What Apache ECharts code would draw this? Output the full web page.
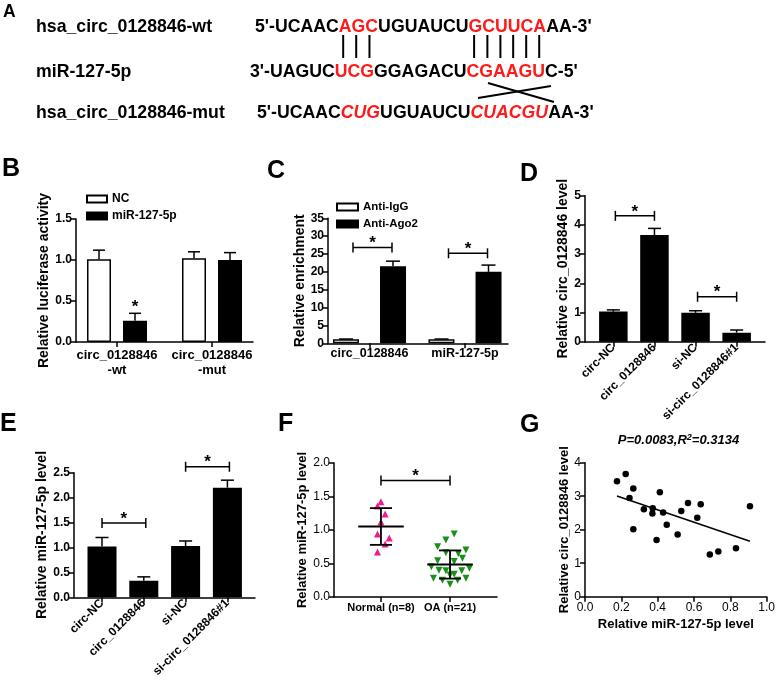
<!DOCTYPE html>
<html><head><meta charset="utf-8">
<script src="https://cdn.jsdelivr.net/npm/echarts@6/dist/echarts.min.js"></script>
<style>html,body{margin:0;padding:0;background:#fff}#c{width:778px;height:685px}</style>
</head><body><div id="c"></div>
<script>
const FF = "'Liberation Sans', Arial, Helvetica, sans-serif";

// ---------------- DATA ----------------
// Panel A: sequences (text, style key)
const seqNames = ['hsa_circ_0128846-wt', 'miR-127-5p', 'hsa_circ_0128846-mut'];
const seqWt  = [["5'-UCAAC",'n'],['AGC','r'],['UGUAUCU','n'],['GCUUCA','r'],["AA-3'",'n']];
const seqMir = [["3'-UAGUC",'n'],['UCG','r'],['GGAGACU','n'],['CGAAGU','r'],["C-5'",'n']];
const seqMut = [["5'-UCAAC",'n'],['CUG','ri'],['UGUAUCU','n'],['CUACGU','ri'],["AA-3'",'n']];

// Panel B
const bCats = ['circ_0128846\n-wt', 'circ_0128846\n-mut'];
const bNC = [1.01, 1.02], bNCsd = [0.11, 0.08];
const bMir = [0.26, 1.00], bMirSd = [0.09, 0.09];
const bStarIdx = [0];

// Panel C
const cCats = ['circ_0128846', 'miR-127-5p'];
const cIgG = [1.1, 1.1], cIgGsd = [0.1, 0.1];
const cAgo = [21.6, 20.0], cAgoSd = [1.4, 1.9];
const cSig = [[0, 0, 26.8], [1, 1, 25.2]];

// Panel D
const dCats = ['circ-NC', 'circ_0128846', 'si-NC', 'si-circ_0128846#1'];
const dVals = [1.03, 3.65, 0.99, 0.31], dSd = [0.06, 0.23, 0.07, 0.09];
const dSig = [[0, 1, 4.31], [2, 3, 1.54]];

// Panel E
const eCats = ['circ-NC', 'circ_0128846', 'si-NC', 'si-circ_0128846#1'];
const eVals = [1.02, 0.33, 1.03, 2.20], eSd = [0.18, 0.08, 0.10, 0.15];
const eSig = [[0, 1, 1.49], [2, 3, 2.62]];

// Panel F
const fCats = ['Normal (n=8)', 'OA (n=21)'];
const fNormal = [1.42, 1.36, 1.24, 1.12, 0.94, 0.88, 0.79, 0.67];
const fNormalJit = [0, -0.05, 0.06, 0, -0.05, 0.12, 0.06, -0.05];
const fOA = [0.94, 0.85, 0.75, 0.70, 0.66, 0.65, 0.58, 0.54, 0.53, 0.45, 0.43, 0.40, 0.39, 0.39, 0.33, 0.34, 0.28, 0.28, 0.25, 0.25, 0.19];
const fOAJit = [0.06, -0.06, -0.18, 0.23, -0.06, 0.12, 0.18, -0.18, 0.06, -0.27, 0.28, -0.16, -0.06, 0.17, 0, 0.06, -0.24, 0.23, -0.11, 0.11, 0];
const fSig = [[1, 2, 1.74]];

// Panel G
const gX = [0.176, 0.224, 0.266, 0.245, 0.266, 0.324, 0.373, 0.371, 0.412, 0.430, 0.394, 0.450, 0.530, 0.567, 0.510, 0.618, 0.637, 0.687, 0.734, 0.831, 0.908];
const gY = [3.45, 3.66, 3.23, 2.95, 2.01, 2.61, 2.64, 2.48, 3.12, 2.51, 1.69, 2.15, 2.56, 2.80, 1.86, 2.36, 2.76, 1.26, 1.35, 1.45, 2.70];
const gStat = ['P=0.0083,R', '2', '=0.3134'];

// ---------------- BUILD ----------------
const grids = [], xAxis = [], yAxis = [], series = [], graphics = [];
const AX = {color: '#000', width: 1.5};
const LS = {stroke: '#000', lineWidth: 1.5};

function barFrame(o) {
  const gi = grids.length;
  grids.push({left: o.fl, top: o.top, width: o.fr - o.fl, height: o.bottom - o.top});
  xAxis.push({gridIndex: gi, type: 'value', min: 0, max: 1, axisLine: {show: true, onZero: false, lineStyle: AX},
    axisTick: {show: false}, axisLabel: {show: false}, splitLine: {show: false}});
  yAxis.push({gridIndex: gi, type: 'value', min: o.min, max: o.max, interval: o.int,
    axisLine: {show: true, lineStyle: AX}, axisTick: {show: true, length: 5, lineStyle: AX},
    axisLabel: {color: '#000', fontFamily: FF, fontWeight: o.tickWeight || 'bold', fontSize: o.tickSize || 12, margin: 4,
      formatter: v => v.toFixed(o.dec)},
    splitLine: {show: false}, name: o.name, nameLocation: 'middle', nameGap: o.nameGap,
    nameTextStyle: {color: '#000', fontFamily: FF, fontWeight: 'bold', fontSize: o.nameSize || 14}});
  const pg = grids.length;
  grids.push({left: o.pl, top: o.top, width: o.pr - o.pl, height: o.bottom - o.top});
  const xi = xAxis.length;
  xAxis.push({gridIndex: pg, type: 'category', data: o.cats,
    axisLine: {show: true, lineStyle: {color: 'rgba(0,0,0,0)'}},
    axisTick: {show: true, alignWithLabel: true, length: 5, lineStyle: AX},
    axisLabel: {interval: 0, color: '#000', fontFamily: FF, fontWeight: 'bold', fontSize: o.catSize || 12,
      margin: o.catMargin || 5, rotate: o.rotate || 0, lineHeight: o.catLH || undefined},
    splitLine: {show: false}});
  const yi = yAxis.length;
  yAxis.push({gridIndex: pg, type: 'value', min: o.min, max: o.max, show: false});
  return {x: xi, y: yi};
}

function errSeries(ax, vals, sds, off, cap) {
  return {type: 'custom', xAxisIndex: ax.x, yAxisIndex: ax.y, z: 5, silent: true,
    data: vals.map((v, i) => [i, v, v + sds[i]]),
    renderItem: (p, api) => {
      const a = api.coord([api.value(0), api.value(1)]);
      const b = api.coord([api.value(0), api.value(2)]);
      const x = a[0] + off;
      return {type: 'group', children: [
        {type: 'line', shape: {x1: x, y1: a[1], x2: x, y2: b[1]}, style: LS},
        {type: 'line', shape: {x1: x - cap, y1: b[1], x2: x + cap, y2: b[1]}, style: LS}
      ]};
    }};
}

function starText(x, y) {
  return {type: 'text', x: x, y: y, style: {text: '*', fill: '#000', font: 'bold 17px ' + FF,
    align: 'center', verticalAlign: 'middle', textAlign: 'center', textVerticalAlign: 'middle'}};
}

function sigSeries(ax, sig, o1, o2) {
  return {type: 'custom', xAxisIndex: ax.x, yAxisIndex: ax.y, z: 5, silent: true, data: sig,
    renderItem: (p, api) => {
      const a = api.coord([api.value(0), api.value(2)]);
      const b = api.coord([api.value(1), api.value(2)]);
      const x1 = a[0] + o1, x2 = b[0] + o2, y = a[1];
      return {type: 'group', children: [
        {type: 'line', shape: {x1: x1, y1: y, x2: x2, y2: y}, style: LS},
        {type: 'line', shape: {x1: x1, y1: y - 5, x2: x1, y2: y + 5}, style: LS},
        {type: 'line', shape: {x1: x2, y1: y - 5, x2: x2, y2: y + 5}, style: LS},
        starText((x1 + x2) / 2, y - 4)
      ]};
    }};
}

// ---- Panel B
const bAx = barFrame({fl: 76, fr: 253, top: 219, bottom: 342, pl: 69.5, pr: 259.5, min: 0, max: 1.5, int: 0.5, dec: 1,
  name: 'Relative luciferase activity', nameGap: 22, cats: bCats, catSize: 13, catLH: 15, catMargin: 6});
series.push({name: 'NC', type: 'bar', xAxisIndex: bAx.x, yAxisIndex: bAx.y, data: bNC, barWidth: 24, barGap: '50%',
  itemStyle: {color: '#fff', borderColor: '#000', borderWidth: 1.5}});
series.push({name: 'miR-127-5p', type: 'bar', xAxisIndex: bAx.x, yAxisIndex: bAx.y, data: bMir, barWidth: 24, barGap: '50%',
  itemStyle: {color: '#000', borderColor: '#000', borderWidth: 1.5}});
series.push(errSeries(bAx, bNC, bNCsd, -18, 6));
series.push(errSeries(bAx, bMir, bMirSd, 18, 6));
series.push({type: 'custom', xAxisIndex: bAx.x, yAxisIndex: bAx.y, z: 5, silent: true,
  data: bStarIdx.map(i => [i, bMir[i] + bMirSd[i]]),
  renderItem: (p, api) => { const a = api.coord([api.value(0), api.value(1)]); return starText(a[0] + 18, a[1] - 6); }});

// ---- Panel C
const cAx = barFrame({fl: 328, fr: 508, top: 218.3, bottom: 343.3, pl: 321.75, pr: 512.75, min: 0, max: 35, int: 5, dec: 0,
  name: 'Relative enrichment', nameGap: 16, cats: cCats, catSize: 12.5, catMargin: 4});
series.push({name: 'Anti-IgG', type: 'bar', xAxisIndex: cAx.x, yAxisIndex: cAx.y, data: cIgG, barWidth: 26, barGap: '81%',
  itemStyle: {color: '#fff', borderColor: '#000', borderWidth: 1.5}});
series.push({name: 'Anti-Ago2', type: 'bar', xAxisIndex: cAx.x, yAxisIndex: cAx.y, data: cAgo, barWidth: 26, barGap: '81%',
  itemStyle: {color: '#000', borderColor: '#000', borderWidth: 1.5}});
series.push(errSeries(cAx, cIgG, cIgGsd, -23.5, 7));
series.push(errSeries(cAx, cAgo, cAgoSd, 23.5, 7));
series.push(sigSeries(cAx, cSig, -16.5, 22.5));

// ---- Panel D
const dAx = barFrame({fl: 585, fr: 765, top: 195.7, bottom: 341.7, pl: 592.8, pr: 757.2, min: 0, max: 5, int: 1, dec: 0,
  name: 'Relative circ_0128846 level', nameGap: 15, cats: dCats, rotate: 45, catSize: 12, catMargin: 4});
series.push({type: 'bar', xAxisIndex: dAx.x, yAxisIndex: dAx.y, data: dVals, barWidth: 28.5,
  itemStyle: {color: '#000', borderColor: '#000', borderWidth: 1.5}});
series.push(errSeries(dAx, dVals, dSd, 0, 6.5));
series.push(sigSeries(dAx, dSig, 2, 0));

// ---- Panel E
const eAx = barFrame({fl: 74, fr: 255, top: 472.7, bottom: 597.3, pl: 81.1, pr: 248.3, min: 0, max: 2.5, int: 0.5, dec: 1,
  name: 'Relative miR-127-5p level', nameGap: 18, cats: eCats, rotate: 45, catSize: 12, catMargin: 4});
series.push({type: 'bar', xAxisIndex: eAx.x, yAxisIndex: eAx.y, data: eVals, barWidth: 29,
  itemStyle: {color: '#000', borderColor: '#000', borderWidth: 1.5}});
series.push(errSeries(eAx, eVals, eSd, 0, 6.5));
series.push(sigSeries(eAx, eSig, 0, 2));

// ---- Panel F
const fG = grids.length;
grids.push({left: 334, top: 463, width: 163, height: 134});
const fX = xAxis.length;
xAxis.push({gridIndex: fG, type: 'value', min: 0.32, max: 2.68,
  axisLine: {show: true, onZero: false, lineStyle: AX},
  axisTick: {show: true, length: 5, lineStyle: AX, customValues: [1, 2]},
  axisLabel: {customValues: [1, 2], formatter: v => fCats[Math.round(v) - 1], color: '#000', fontFamily: FF,
    fontWeight: 'bold', fontSize: 11, margin: 5},
  splitLine: {show: false}});
const fY = yAxis.length;
yAxis.push({gridIndex: fG, type: 'value', min: 0, max: 2, interval: 0.5,
  axisLine: {show: true, lineStyle: AX}, axisTick: {show: true, length: 5, lineStyle: AX},
  axisLabel: {color: '#000', fontFamily: FF, fontSize: 12, margin: 4, formatter: v => v.toFixed(1)},
  splitLine: {show: false}, name: 'Relative miR-127-5p level', nameLocation: 'middle', nameGap: 22,
  nameTextStyle: {color: '#000', fontFamily: FF, fontWeight: 'bold', fontSize: 13}});
series.push({type: 'scatter', xAxisIndex: fX, yAxisIndex: fY, symbol: 'triangle', symbolSize: 7,
  data: fNormal.map((v, i) => [1 + fNormalJit[i], v]), itemStyle: {color: '#ee1c8e', opacity: 1}, z: 2});
series.push({type: 'scatter', xAxisIndex: fX, yAxisIndex: fY, symbol: 'triangle', symbolRotate: 180, symbolSize: 7,
  data: fOA.map((v, i) => [2 + fOAJit[i], v]), itemStyle: {color: '#1a8f1a', opacity: 1}, z: 2});
function mean(a) { return a.reduce((s, v) => s + v, 0) / a.length; }
function sd(a) { const m = mean(a); return Math.sqrt(a.reduce((s, v) => s + (v - m) * (v - m), 0) / (a.length - 1)); }
series.push({type: 'custom', xAxisIndex: fX, yAxisIndex: fY, z: 5, silent: true,
  data: [[1, mean(fNormal), sd(fNormal)], [2, mean(fOA), sd(fOA)]],
  renderItem: (p, api) => {
    const x = api.value(0), m = api.value(1), s = api.value(2);
    const L = {stroke: '#000', lineWidth: 1.8};
    const a1 = api.coord([x - 0.33, m]), a2 = api.coord([x + 0.33, m]);
    const t1 = api.coord([x - 0.16, m + s]), t2 = api.coord([x + 0.16, m + s]);
    const b1 = api.coord([x - 0.16, m - s]), b2 = api.coord([x + 0.16, m - s]);
    const vt = api.coord([x, m + s]), vb = api.coord([x, m - s]);
    return {type: 'group', children: [
      {type: 'line', shape: {x1: a1[0], y1: a1[1], x2: a2[0], y2: a2[1]}, style: L},
      {type: 'line', shape: {x1: vt[0], y1: vt[1], x2: vb[0], y2: vb[1]}, style: L},
      {type: 'line', shape: {x1: t1[0], y1: t1[1], x2: t2[0], y2: t2[1]}, style: L},
      {type: 'line', shape: {x1: b1[0], y1: b1[1], x2: b2[0], y2: b2[1]}, style: L}
    ]};
  }});
series.push(sigSeries({x: fX, y: fY}, fSig, 0, 0));

// ---- Panel G
const gG = grids.length;
grids.push({left: 585, top: 462.7, width: 190, height: 134});
const gXi = xAxis.length;
xAxis.push({gridIndex: gG, type: 'value', min: 0, max: 1, interval: 0.2,
  axisLine: {show: true, onZero: false, lineStyle: AX}, axisTick: {show: true, length: 5, lineStyle: AX},
  axisLabel: {color: '#000', fontFamily: FF, fontSize: 12, margin: 5, formatter: v => v.toFixed(1), showMaxLabel: true},
  splitLine: {show: false}, name: 'Relative miR-127-5p level', nameLocation: 'middle', nameGap: 21,
  nameTextStyle: {color: '#000', fontFamily: FF, fontWeight: 'bold', fontSize: 13}});
const gYi = yAxis.length;
yAxis.push({gridIndex: gG, type: 'value', min: 0, max: 4, interval: 1,
  axisLine: {show: true, lineStyle: AX}, axisTick: {show: true, length: 5, lineStyle: AX},
  axisLabel: {color: '#000', fontFamily: FF, fontSize: 12, margin: 4},
  splitLine: {show: false}, name: 'Relative circ_0128846 level', nameLocation: 'middle', nameGap: 13,
  nameTextStyle: {color: '#000', fontFamily: FF, fontWeight: 'bold', fontSize: 13}});
series.push({type: 'scatter', xAxisIndex: gXi, yAxisIndex: gYi, symbol: 'circle', symbolSize: 6.5,
  data: gX.map((x, i) => [x, gY[i]]), itemStyle: {color: '#000', opacity: 1}});
(function () {
  const mx = mean(gX), my = mean(gY);
  let sxy = 0, sxx = 0;
  gX.forEach((x, i) => { sxy += (x - mx) * (gY[i] - my); sxx += (x - mx) * (x - mx); });
  const k = sxy / sxx, b = my - k * mx;
  const x0 = Math.min(...gX), x1 = Math.max(...gX);
  series.push({type: 'line', xAxisIndex: gXi, yAxisIndex: gYi, symbol: 'none', silent: true,
    data: [[x0, k * x0 + b], [x1, k * x1 + b]], lineStyle: {color: '#000', width: 1.5}});
})();

// ---------------- GRAPHICS (panel A, letters, stats) ----------------
const aSize = 17.7;
const ctx = document.createElement('canvas').getContext('2d');
ctx.font = 'bold ' + aSize + 'px ' + FF;
function letterCenters(parts, startX, idx) {
  const pre = parts.slice(0, idx).map(p => p[0]).join('');
  let x = startX + ctx.measureText(pre).width;
  const res = [];
  for (const ch of parts[idx][0]) { const w = ctx.measureText(ch).width; res.push(x + w / 2); x += w; }
  return res;
}
const rowY = [27, 72, 113];
const seqX = [255, 250, 257];
const rich = {
  n: {fill: '#000', fontWeight: 'bold', fontSize: aSize, fontFamily: FF},
  r: {fill: '#ff1a1a', fontWeight: 'bold', fontSize: aSize, fontFamily: FF},
  ri: {fill: '#ff1a1a', fontWeight: 'bold', fontStyle: 'italic', fontSize: aSize, fontFamily: FF}
};
[seqWt, seqMir, seqMut].forEach((parts, r) => {
  graphics.push({type: 'text', x: 36, y: rowY[r], style: {text: seqNames[r], fill: '#000', font: 'bold ' + aSize + 'px ' + FF,
    verticalAlign: 'middle', textVerticalAlign: 'middle'}});
  graphics.push({type: 'text', x: seqX[r], y: rowY[r], style: {text: parts.map(p => '{' + p[1] + '|' + p[0] + '}').join(''),
    rich: rich, font: 'bold ' + aSize + 'px ' + FF, verticalAlign: 'middle', textVerticalAlign: 'middle'}});
});
[1, 3].forEach(idx => {
  const c1 = letterCenters(seqWt, seqX[0], idx), c2 = letterCenters(seqMir, seqX[1], idx);
  c1.forEach((c, i) => {
    const x = (c + c2[i]) / 2;
    graphics.push({type: 'line', shape: {x1: x, y1: 35, x2: x, y2: 58}, style: {stroke: '#000', lineWidth: 2}});
  });
});
graphics.push({type: 'line', shape: {x1: 478, y1: 98, x2: 551, y2: 86}, style: {stroke: '#000', lineWidth: 2}});
graphics.push({type: 'line', shape: {x1: 488, y1: 83, x2: 554, y2: 102}, style: {stroke: '#000', lineWidth: 2}});

const letters = [['A', 3, 12, 17.5], ['B', 2, 169, 25], ['C', 267, 171, 25], ['D', 520, 174, 25],
  ['E', 0, 424, 25], ['F', 278, 424, 25], ['G', 520, 425, 25]];
letters.forEach(l => graphics.push({type: 'text', x: l[1], y: l[2],
  style: {text: l[0], fill: '#000', font: 'bold ' + l[3] + 'px ' + FF, verticalAlign: 'middle', textVerticalAlign: 'middle'}}));

graphics.push({type: 'text', x: 678.5, y: 440, style: {
  text: '{a|' + gStat[0] + '}{s|' + gStat[1] + '}{a|' + gStat[2] + '}',
  rich: {a: {fill: '#000', fontWeight: 'bold', fontStyle: 'italic', fontSize: 13, fontFamily: FF},
         s: {fill: '#000', fontWeight: 'bold', fontStyle: 'italic', fontSize: 9, fontFamily: FF, verticalAlign: 'top'}},
  align: 'center', verticalAlign: 'middle', textAlign: 'center', textVerticalAlign: 'middle'}});

const legendText = {color: '#000', fontFamily: FF, fontWeight: 'bold', fontSize: 12};
const option = {
  animation: false,
  backgroundColor: '#fff',
  textStyle: {fontFamily: FF},
  grid: grids, xAxis: xAxis, yAxis: yAxis, series: series,
  legend: [
    {data: ['NC', 'miR-127-5p'], orient: 'vertical', left: 86, top: 193, padding: 0, itemWidth: 20, itemHeight: 7,
      itemGap: 5, icon: 'rect', textStyle: legendText, selectedMode: false},
    {data: ['Anti-IgG', 'Anti-Ago2'], orient: 'vertical', left: 336, top: 201, padding: 0, itemWidth: 21, itemHeight: 7,
      itemGap: 5, icon: 'rect', textStyle: Object.assign({}, legendText, {fontSize: 11.5}), selectedMode: false}
  ],
  graphic: {elements: graphics}
};
const chart = echarts.init(document.getElementById('c'), null, {renderer: 'canvas', width: 778, height: 685});
chart.setOption(option);
</script>
</body></html>
